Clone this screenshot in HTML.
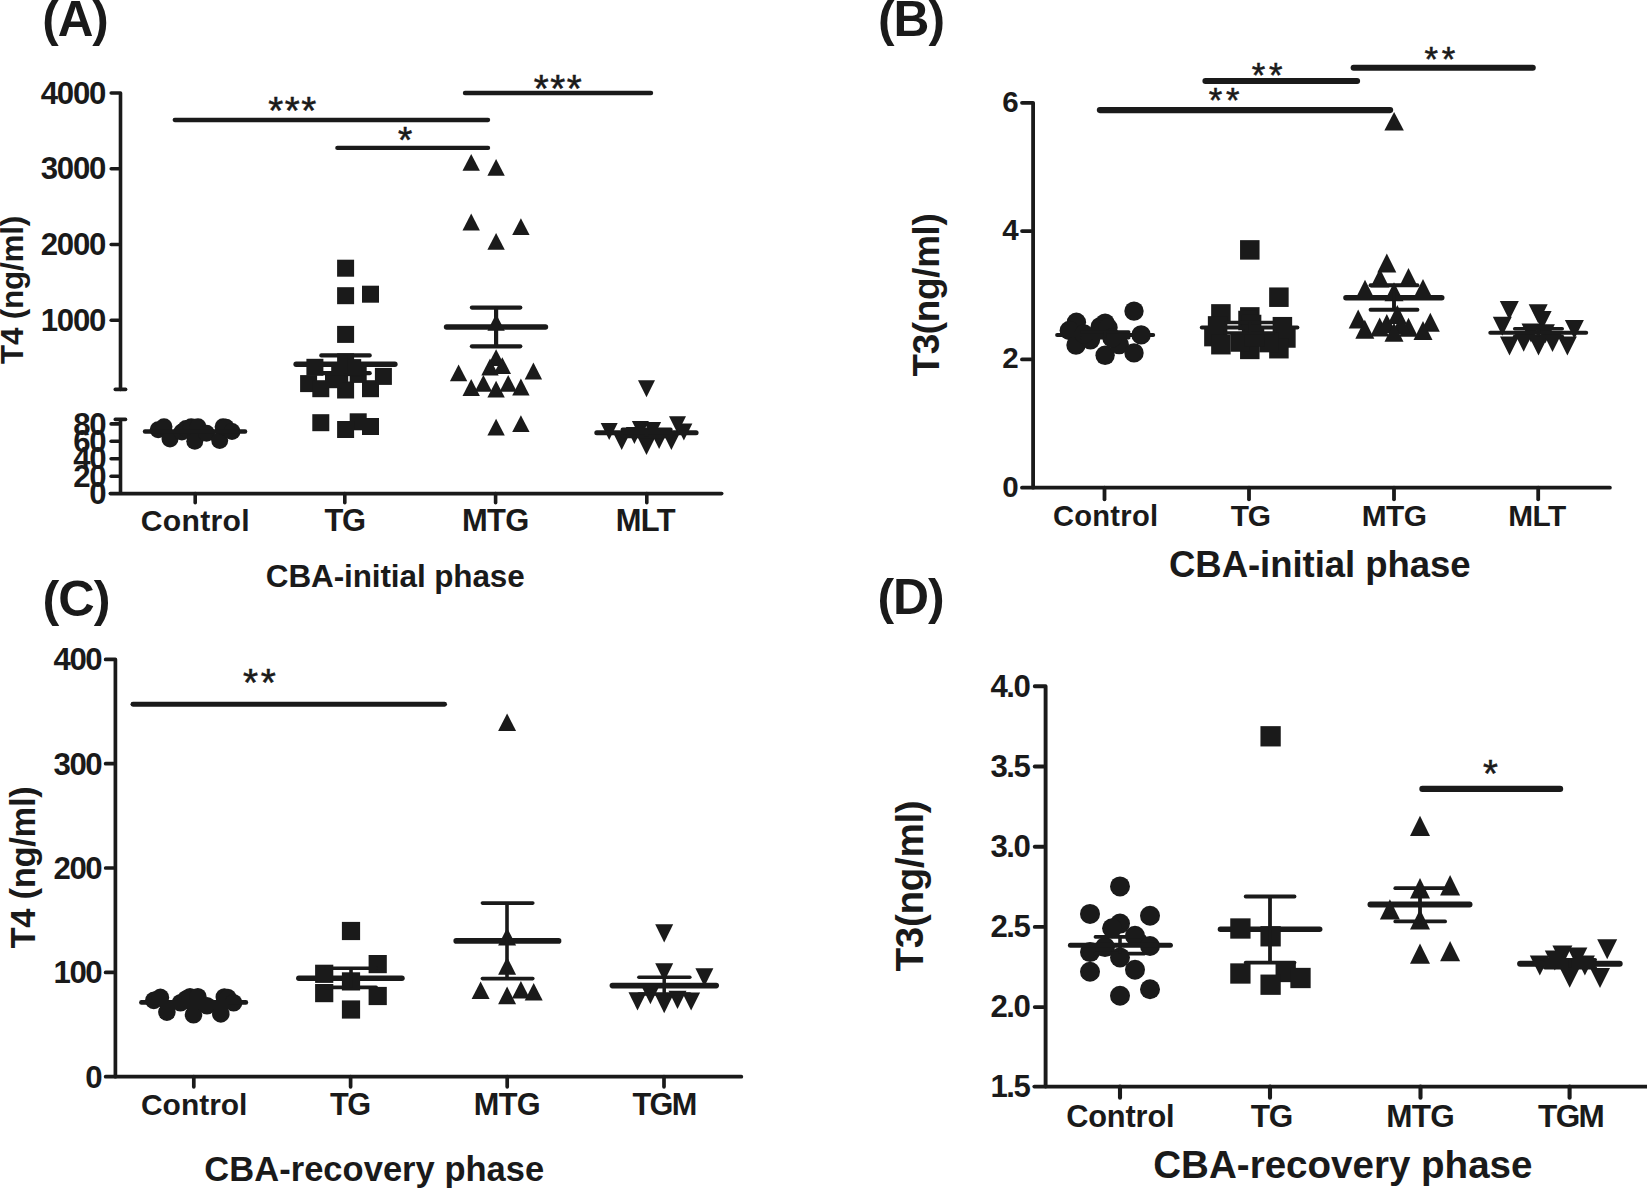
<!DOCTYPE html>
<html lang="en">
<head>
<meta charset="utf-8">
<title>Serum T4 and T3 levels - CBA initial and recovery phase</title>
<style>
html,body{margin:0;padding:0;background:#ffffff;}
body{width:1647px;height:1190px;overflow:hidden;}
svg{display:block;}
svg text{stroke:none;}
svg text.s{stroke:#1a1a1a;stroke-width:0.55px;stroke-linejoin:miter;}
</style>
</head>
<body>
<svg width="1647" height="1190" viewBox="0 0 1647 1190" font-family="'Liberation Sans', Arial, Helvetica, sans-serif" font-weight="700" fill="#1a1a1a" stroke="#1a1a1a" stroke-width="0">
<rect x="0" y="0" width="1647" height="1190" fill="#ffffff" stroke="none"/>
<!-- Panel A -->
<text x="42.3" y="35.7" font-size="49.4" text-anchor="start" letter-spacing="-1.04">(A)</text>
<path d="M111.2 93H120.5V389.4" fill="none" stroke-width="3.6" stroke-linecap="round" stroke-linejoin="round"/>
<text x="105.19" y="103.7" font-size="31.2" text-anchor="end" letter-spacing="-1.21">4000</text>
<line x1="111.2" y1="168.7" x2="118.7" y2="168.7" stroke-width="3.6" stroke-linecap="round"/>
<text x="105.19" y="179.4" font-size="31.2" text-anchor="end" letter-spacing="-1.21">3000</text>
<line x1="111.2" y1="244.5" x2="118.7" y2="244.5" stroke-width="3.6" stroke-linecap="round"/>
<text x="105.19" y="255.2" font-size="31.2" text-anchor="end" letter-spacing="-1.21">2000</text>
<line x1="111.2" y1="320.2" x2="118.7" y2="320.2" stroke-width="3.6" stroke-linecap="round"/>
<text x="105.19" y="330.9" font-size="31.2" text-anchor="end" letter-spacing="-1.21">1000</text>
<line x1="115.3" y1="389.4" x2="125.6" y2="389.4" stroke-width="3.6" stroke-linecap="round"/>
<line x1="120.5" y1="419.4" x2="120.5" y2="493.6" stroke-width="3.6" stroke-linecap="butt"/>
<line x1="115.3" y1="419.4" x2="125.5" y2="419.4" stroke-width="3.6" stroke-linecap="round"/>
<line x1="111.1" y1="423.9" x2="118.7" y2="423.9" stroke-width="3.6" stroke-linecap="round"/>
<text x="105.44" y="434.6" font-size="31.2" text-anchor="end" letter-spacing="-1.26">80</text>
<line x1="111.1" y1="441.3" x2="118.7" y2="441.3" stroke-width="3.6" stroke-linecap="round"/>
<text x="105.44" y="452" font-size="31.2" text-anchor="end" letter-spacing="-1.26">60</text>
<line x1="111.1" y1="458.7" x2="118.7" y2="458.7" stroke-width="3.6" stroke-linecap="round"/>
<text x="105.44" y="469.4" font-size="31.2" text-anchor="end" letter-spacing="-1.26">40</text>
<line x1="111.1" y1="476.2" x2="118.7" y2="476.2" stroke-width="3.6" stroke-linecap="round"/>
<text x="105.44" y="486.9" font-size="31.2" text-anchor="end" letter-spacing="-1.26">20</text>
<text x="105.44" y="504.3" font-size="31.2" text-anchor="end" letter-spacing="-1.26">0</text>
<line x1="110.3" y1="493.6" x2="721.7" y2="493.6" stroke-width="3.6" stroke-linecap="round"/>
<line x1="195.2" y1="493.6" x2="195.2" y2="502.8" stroke-width="3.6" stroke-linecap="round"/>
<text x="195.36" y="531.3" font-size="30.15" text-anchor="middle" letter-spacing="0.31">Control</text>
<line x1="344.8" y1="493.6" x2="344.8" y2="502.8" stroke-width="3.6" stroke-linecap="round"/>
<text x="344.57" y="531.3" font-size="30.89" text-anchor="middle" letter-spacing="-1.45">TG</text>
<line x1="495.6" y1="493.6" x2="495.6" y2="502.8" stroke-width="3.6" stroke-linecap="round"/>
<text x="495.27" y="531.3" font-size="30.89" text-anchor="middle" letter-spacing="-0.65">MTG</text>
<line x1="646.8" y1="493.6" x2="646.8" y2="502.8" stroke-width="3.6" stroke-linecap="round"/>
<text x="645.27" y="531.3" font-size="30.89" text-anchor="middle" letter-spacing="-0.65">MLT</text>
<text x="395.26" y="586.9" font-size="31.46" text-anchor="middle" letter-spacing="-0.09">CBA-initial phase</text>
<text x="22.58" y="290" font-size="31.46" text-anchor="middle" letter-spacing="-0.25" transform="rotate(-90 22.58 290)">T4 (ng/ml)</text>
<circle cx="158.2" cy="429.8" r="8.5"/>
<circle cx="164" cy="426.8" r="8.5"/>
<circle cx="170" cy="439.1" r="8.5"/>
<circle cx="181.9" cy="431.9" r="8.5"/>
<circle cx="186" cy="428.5" r="8.5"/>
<circle cx="191.2" cy="426.8" r="8.5"/>
<circle cx="198" cy="426.8" r="8.5"/>
<circle cx="194.8" cy="441.2" r="8.5"/>
<circle cx="206.5" cy="433.2" r="8.5"/>
<circle cx="219.7" cy="440.4" r="8.5"/>
<circle cx="223.1" cy="426.8" r="8.5"/>
<circle cx="226" cy="427.3" r="8.5"/>
<circle cx="232" cy="431.5" r="8.5"/>
<line x1="145" y1="431.5" x2="245.1" y2="431.5" stroke-width="4.4" stroke-linecap="round"/>
<rect x="337.1" y="259.7" width="17" height="17"/>
<rect x="337.1" y="287.2" width="17" height="17"/>
<rect x="362" y="285.7" width="17" height="17"/>
<rect x="337.1" y="325.9" width="17" height="17"/>
<rect x="337.1" y="353.3" width="17" height="17"/>
<rect x="306.4" y="358.8" width="17" height="17"/>
<rect x="374.9" y="367.9" width="17" height="17"/>
<rect x="300.1" y="375.1" width="17" height="17"/>
<rect x="312.3" y="380.2" width="17" height="17"/>
<rect x="337.1" y="381.5" width="17" height="17"/>
<rect x="362" y="380.2" width="17" height="17"/>
<rect x="331.2" y="365.9" width="17" height="17"/>
<rect x="349.7" y="365.9" width="17" height="17"/>
<rect x="325" y="371.2" width="17" height="17"/>
<rect x="344.2" y="359.1" width="17" height="17"/>
<rect x="312.3" y="414.2" width="17" height="17"/>
<rect x="349.7" y="413.3" width="17" height="17"/>
<rect x="337.1" y="421" width="17" height="17"/>
<rect x="362" y="418" width="17" height="17"/>
<line x1="296.15" y1="364.3" x2="394.85" y2="364.3" stroke-width="5.5" stroke-linecap="round"/>
<line x1="321.3" y1="355.4" x2="369.7" y2="355.4" stroke-width="4.2" stroke-linecap="round"/>
<line x1="321.3" y1="373.2" x2="369.7" y2="373.2" stroke-width="4.2" stroke-linecap="round"/>
<line x1="345.6" y1="355.4" x2="345.6" y2="373.2" stroke-width="4.2" stroke-linecap="butt"/>
<polygon points="471.2,153.9 462.5,170.7 479.9,170.7"/>
<polygon points="496.1,159 487.4,175.8 504.8,175.8"/>
<polygon points="471.2,213.6 462.5,230.4 479.9,230.4"/>
<polygon points="520.9,218.2 512.2,235 529.6,235"/>
<polygon points="496.1,232.9 487.4,249.7 504.8,249.7"/>
<polygon points="496.1,314 487.4,330.8 504.8,330.8"/>
<polygon points="496.1,349.2 487.4,366 504.8,366"/>
<polygon points="490,358.6 481.3,375.4 498.7,375.4"/>
<polygon points="502.3,357.2 493.6,374 511,374"/>
<polygon points="458.6,364.5 449.9,381.3 467.3,381.3"/>
<polygon points="533.4,362.6 524.7,379.4 542.1,379.4"/>
<polygon points="483.4,374.9 474.7,391.7 492.1,391.7"/>
<polygon points="508.2,374.9 499.5,391.7 516.9,391.7"/>
<polygon points="471.2,379.1 462.5,395.9 479.9,395.9"/>
<polygon points="496.1,380.8 487.4,397.6 504.8,397.6"/>
<polygon points="520.9,378.6 512.2,395.4 529.6,395.4"/>
<polygon points="496.1,418.7 487.4,435.5 504.8,435.5"/>
<polygon points="520.9,415.2 512.2,432 529.6,432"/>
<line x1="446.55" y1="327" x2="545.45" y2="327" stroke-width="5.5" stroke-linecap="round"/>
<line x1="471.9" y1="307.6" x2="520.3" y2="307.6" stroke-width="4.2" stroke-linecap="round"/>
<line x1="471.9" y1="346.3" x2="520.3" y2="346.3" stroke-width="4.2" stroke-linecap="round"/>
<line x1="496.1" y1="307.6" x2="496.1" y2="346.3" stroke-width="4.2" stroke-linecap="butt"/>
<polygon points="638,380.2 655,380.2 646.5,397.2"/>
<polygon points="600.7,423.1 617.7,423.1 609.2,440.1"/>
<polygon points="669,416.3 686,416.3 677.5,433.3"/>
<polygon points="675.4,423.6 692.4,423.6 683.9,440.6"/>
<polygon points="631.9,420.9 648.9,420.9 640.4,437.9"/>
<polygon points="644.1,421.9 661.1,421.9 652.6,438.9"/>
<polygon points="613.2,432.9 630.2,432.9 621.7,449.9"/>
<polygon points="638,438 655,438 646.5,455"/>
<polygon points="650.6,432.1 667.6,432.1 659.1,449.1"/>
<polygon points="662.9,432.9 679.9,432.9 671.4,449.9"/>
<polygon points="625.9,427 642.9,427 634.4,444"/>
<line x1="596.8" y1="432.8" x2="696.1" y2="432.8" stroke-width="5" stroke-linecap="round"/>
<line x1="622.6" y1="429.4" x2="670.6" y2="429.4" stroke-width="4" stroke-linecap="round"/>
<line x1="622.6" y1="436.2" x2="670.6" y2="436.2" stroke-width="4" stroke-linecap="round"/>
<line x1="646.5" y1="429.4" x2="646.5" y2="436.2" stroke-width="4" stroke-linecap="butt"/>
<line x1="174.75" y1="120" x2="488.05" y2="120" stroke-width="4.3" stroke-linecap="round"/>
<text x="293.11" y="123.6" font-size="38.5" text-anchor="middle" font-weight="400" class="s" letter-spacing="1.52">***</text>
<line x1="337.35" y1="147.9" x2="488.05" y2="147.9" stroke-width="4.3" stroke-linecap="round"/>
<text x="405.2" y="153.3" font-size="36.6" text-anchor="middle" font-weight="400" class="s">*</text>
<line x1="465" y1="93" x2="651" y2="93" stroke-width="4.4" stroke-linecap="round"/>
<text x="558.61" y="101.5" font-size="38.5" text-anchor="middle" font-weight="400" class="s" letter-spacing="1.52">***</text>
<!-- Panel B -->
<text x="878.1" y="35.8" font-size="49.71" text-anchor="start" letter-spacing="-1.05">(B)</text>
<path d="M1022 102.8H1033.1V487.7" fill="none" stroke-width="3.8" stroke-linecap="round" stroke-linejoin="round"/>
<text x="1018.18" y="111.8" font-size="29.54" text-anchor="end" letter-spacing="-0.62">6</text>
<line x1="1022" y1="231.1" x2="1031.2" y2="231.1" stroke-width="3.8" stroke-linecap="round"/>
<text x="1018.18" y="240.1" font-size="29.54" text-anchor="end" letter-spacing="-0.62">4</text>
<line x1="1022" y1="359.4" x2="1031.2" y2="359.4" stroke-width="3.8" stroke-linecap="round"/>
<text x="1018.18" y="368.4" font-size="29.54" text-anchor="end" letter-spacing="-0.62">2</text>
<text x="1018.18" y="496.7" font-size="29.54" text-anchor="end" letter-spacing="-0.62">0</text>
<line x1="1022" y1="487.7" x2="1609.9" y2="487.7" stroke-width="3.8" stroke-linecap="round"/>
<line x1="1104.5" y1="487.7" x2="1104.5" y2="499.3" stroke-width="3.8" stroke-linecap="round"/>
<text x="1105.64" y="525.8" font-size="29.13" text-anchor="middle" letter-spacing="0.27">Control</text>
<line x1="1249" y1="487.7" x2="1249" y2="499.3" stroke-width="3.8" stroke-linecap="round"/>
<text x="1250.23" y="525.8" font-size="29.85" text-anchor="middle" letter-spacing="-1.13">TG</text>
<line x1="1394" y1="487.7" x2="1394" y2="499.3" stroke-width="3.8" stroke-linecap="round"/>
<text x="1394.08" y="525.8" font-size="29.85" text-anchor="middle" letter-spacing="-0.63">MTG</text>
<line x1="1538.2" y1="487.7" x2="1538.2" y2="499.3" stroke-width="3.8" stroke-linecap="round"/>
<text x="1536.98" y="525.8" font-size="29.85" text-anchor="middle" letter-spacing="-0.63">MLT</text>
<text x="1319.78" y="576.9" font-size="36.54" text-anchor="middle" letter-spacing="-0.05">CBA-initial phase</text>
<text x="938.55" y="295" font-size="36.84" text-anchor="middle" letter-spacing="-0.29" transform="rotate(-90 938.55 295)">T3(ng/ml)</text>
<circle cx="1134" cy="311.1" r="9.7"/>
<circle cx="1076.4" cy="322.3" r="9.7"/>
<circle cx="1069.3" cy="330.5" r="9.7"/>
<circle cx="1105.1" cy="323.2" r="9.7"/>
<circle cx="1100.3" cy="326.6" r="9.7"/>
<circle cx="1108" cy="327.6" r="9.7"/>
<circle cx="1141.1" cy="334.9" r="9.7"/>
<circle cx="1076" cy="345.1" r="9.7"/>
<circle cx="1090.5" cy="339.8" r="9.7"/>
<circle cx="1105.1" cy="355.3" r="9.7"/>
<circle cx="1119.2" cy="344.6" r="9.7"/>
<circle cx="1134" cy="352.9" r="9.7"/>
<circle cx="1084" cy="334" r="9.7"/>
<circle cx="1112" cy="338" r="9.7"/>
<line x1="1057.1" y1="334.9" x2="1153.2" y2="334.9" stroke-width="4" stroke-linecap="round"/>
<line x1="1081.8" y1="332" x2="1128.7" y2="332" stroke-width="3.6" stroke-linecap="round"/>
<line x1="1081.8" y1="337.8" x2="1128.7" y2="337.8" stroke-width="3.6" stroke-linecap="round"/>
<line x1="1105.1" y1="332" x2="1105.1" y2="337.8" stroke-width="3.6" stroke-linecap="butt"/>
<rect x="1240.05" y="240.15" width="19.5" height="19.5"/>
<rect x="1269.15" y="287.45" width="19.5" height="19.5"/>
<rect x="1211.15" y="304.15" width="19.5" height="19.5"/>
<rect x="1240.05" y="307.15" width="19.5" height="19.5"/>
<rect x="1238.25" y="310.75" width="19.5" height="19.5"/>
<rect x="1241.85" y="314.75" width="19.5" height="19.5"/>
<rect x="1272.65" y="316.95" width="19.5" height="19.5"/>
<rect x="1207.85" y="316.15" width="19.5" height="19.5"/>
<rect x="1204.15" y="326.85" width="19.5" height="19.5"/>
<rect x="1276.15" y="328.25" width="19.5" height="19.5"/>
<rect x="1211.15" y="334.95" width="19.5" height="19.5"/>
<rect x="1240.05" y="339.65" width="19.5" height="19.5"/>
<rect x="1269.15" y="338.95" width="19.5" height="19.5"/>
<rect x="1230.45" y="332.25" width="19.5" height="19.5"/>
<rect x="1259.25" y="332.85" width="19.5" height="19.5"/>
<rect x="1244.75" y="327.25" width="19.5" height="19.5"/>
<line x1="1201.8" y1="327.6" x2="1297.4" y2="327.6" stroke-width="4" stroke-linecap="round"/>
<line x1="1226.2" y1="322.5" x2="1273.3" y2="322.5" stroke-width="3.4" stroke-linecap="round"/>
<line x1="1226.2" y1="333" x2="1273.3" y2="333" stroke-width="3.4" stroke-linecap="round"/>
<line x1="1249.8" y1="322.5" x2="1249.8" y2="333" stroke-width="3.4" stroke-linecap="butt"/>
<polygon points="1394.1,112 1384.35,130.5 1403.85,130.5"/>
<polygon points="1386.8,253.5 1377.3,272.5 1396.3,272.5"/>
<polygon points="1379.9,268.5 1370.4,287.5 1389.4,287.5"/>
<polygon points="1408.5,268 1399,287 1418,287"/>
<polygon points="1365,279.7 1355.5,298.7 1374.5,298.7"/>
<polygon points="1423,279.1 1413.5,298.1 1432.5,298.1"/>
<polygon points="1394,282.2 1384.5,301.2 1403.5,301.2"/>
<polygon points="1358.2,309.5 1348.7,328.5 1367.7,328.5"/>
<polygon points="1364.8,319.8 1355.3,338.8 1374.3,338.8"/>
<polygon points="1379.7,317.4 1370.2,336.4 1389.2,336.4"/>
<polygon points="1386.8,313.9 1377.3,332.9 1396.3,332.9"/>
<polygon points="1397.3,305.1 1387.8,324.1 1406.8,324.1"/>
<polygon points="1408.5,317.7 1399,336.7 1418,336.7"/>
<polygon points="1430.3,312.7 1420.8,331.7 1439.8,331.7"/>
<polygon points="1423,320.9 1413.5,339.9 1432.5,339.9"/>
<polygon points="1401,315 1391.5,334 1410.5,334"/>
<polygon points="1394,322.8 1384.5,341.8 1403.5,341.8"/>
<line x1="1345.95" y1="297.7" x2="1441.75" y2="297.7" stroke-width="5.5" stroke-linecap="round"/>
<line x1="1370.55" y1="285.2" x2="1417.45" y2="285.2" stroke-width="3.9" stroke-linecap="round"/>
<line x1="1370.55" y1="309.7" x2="1417.45" y2="309.7" stroke-width="3.9" stroke-linecap="round"/>
<line x1="1394" y1="285.2" x2="1394" y2="309.7" stroke-width="3.9" stroke-linecap="butt"/>
<polygon points="1499.8,301.1 1518.8,301.1 1509.3,320.1"/>
<polygon points="1492.8,316.7 1511.8,316.7 1502.3,335.7"/>
<polygon points="1528.7,304.2 1547.7,304.2 1538.2,323.2"/>
<polygon points="1532.6,311 1551.6,311 1542.1,330"/>
<polygon points="1564.9,320 1583.9,320 1574.4,339"/>
<polygon points="1521.5,323.4 1540.5,323.4 1531,342.4"/>
<polygon points="1535.9,324.2 1554.9,324.2 1545.4,343.2"/>
<polygon points="1500,336.4 1519,336.4 1509.5,355.4"/>
<polygon points="1514.2,332.7 1533.2,332.7 1523.7,351.7"/>
<polygon points="1529,336.4 1548,336.4 1538.5,355.4"/>
<polygon points="1543,333.1 1562,333.1 1552.5,352.1"/>
<polygon points="1557.9,336.4 1576.9,336.4 1567.4,355.4"/>
<line x1="1490.35" y1="332.7" x2="1586.15" y2="332.7" stroke-width="4.1" stroke-linecap="round"/>
<line x1="1514.7" y1="328.7" x2="1562.2" y2="328.7" stroke-width="3.6" stroke-linecap="round"/>
<line x1="1514.7" y1="336.3" x2="1562.2" y2="336.3" stroke-width="3.6" stroke-linecap="round"/>
<line x1="1538.3" y1="328.7" x2="1538.3" y2="336.3" stroke-width="3.6" stroke-linecap="butt"/>
<line x1="1099.85" y1="110.1" x2="1390.15" y2="110.1" stroke-width="6.1" stroke-linecap="round"/>
<text x="1226.12" y="111.6" font-size="34.6" text-anchor="middle" font-weight="400" class="s" letter-spacing="3.84">**</text>
<line x1="1205.45" y1="81" x2="1357.05" y2="81" stroke-width="6.1" stroke-linecap="round"/>
<text x="1269.12" y="86.7" font-size="34.6" text-anchor="middle" font-weight="400" class="s" letter-spacing="3.84">**</text>
<line x1="1353.65" y1="67.7" x2="1532.75" y2="67.7" stroke-width="6.1" stroke-linecap="round"/>
<text x="1441.82" y="71.3" font-size="34.6" text-anchor="middle" font-weight="400" class="s" letter-spacing="3.84">**</text>
<!-- Panel C -->
<text x="42.6" y="615.8" font-size="50.44" text-anchor="start" letter-spacing="-1.07">(C)</text>
<path d="M105.65 659.4H115.4V1076.7" fill="none" stroke-width="3.7" stroke-linecap="round" stroke-linejoin="round"/>
<text x="101.29" y="670.4" font-size="31.2" text-anchor="end" letter-spacing="-1.41">400</text>
<line x1="105.65" y1="763.7" x2="113.55" y2="763.7" stroke-width="3.7" stroke-linecap="round"/>
<text x="101.29" y="774.7" font-size="31.2" text-anchor="end" letter-spacing="-1.41">300</text>
<line x1="105.65" y1="868" x2="113.55" y2="868" stroke-width="3.7" stroke-linecap="round"/>
<text x="101.29" y="879" font-size="31.2" text-anchor="end" letter-spacing="-1.41">200</text>
<line x1="105.65" y1="972.4" x2="113.55" y2="972.4" stroke-width="3.7" stroke-linecap="round"/>
<text x="101.29" y="983.4" font-size="31.2" text-anchor="end" letter-spacing="-1.41">100</text>
<text x="101.29" y="1087.7" font-size="31.2" text-anchor="end" letter-spacing="-1.41">0</text>
<line x1="105.65" y1="1076.7" x2="741.35" y2="1076.7" stroke-width="3.7" stroke-linecap="round"/>
<line x1="193.8" y1="1076.7" x2="193.8" y2="1086.85" stroke-width="3.7" stroke-linecap="round"/>
<text x="194.21" y="1114.9" font-size="29.94" text-anchor="middle" letter-spacing="0.01">Control</text>
<line x1="350.6" y1="1076.7" x2="350.6" y2="1086.85" stroke-width="3.7" stroke-linecap="round"/>
<text x="349.88" y="1114.9" font-size="30.68" text-anchor="middle" letter-spacing="-1.45">TG</text>
<line x1="507.2" y1="1076.7" x2="507.2" y2="1086.85" stroke-width="3.7" stroke-linecap="round"/>
<text x="506.88" y="1114.9" font-size="30.68" text-anchor="middle" letter-spacing="-0.65">MTG</text>
<line x1="664" y1="1076.7" x2="664" y2="1086.85" stroke-width="3.7" stroke-linecap="round"/>
<text x="664.13" y="1114.9" font-size="30.68" text-anchor="middle" letter-spacing="-1.55">TGM</text>
<text x="374.31" y="1181.2" font-size="34.51" text-anchor="middle" letter-spacing="0.03">CBA-recovery phase</text>
<text x="34.56" y="867.5" font-size="34.51" text-anchor="middle" letter-spacing="-0.27" transform="rotate(-90 34.56 867.5)">T4 (ng/ml)</text>
<circle cx="153.8" cy="1000.4" r="8.8"/>
<circle cx="160.4" cy="997.4" r="8.8"/>
<circle cx="166.9" cy="1012.1" r="8.8"/>
<circle cx="180.5" cy="1002.8" r="8.8"/>
<circle cx="186" cy="999" r="8.8"/>
<circle cx="190" cy="996.8" r="8.8"/>
<circle cx="197.9" cy="996.8" r="8.8"/>
<circle cx="193.5" cy="1014.7" r="8.8"/>
<circle cx="207" cy="1005.8" r="8.8"/>
<circle cx="220.8" cy="1013.9" r="8.8"/>
<circle cx="224.3" cy="997" r="8.8"/>
<circle cx="227.9" cy="997.6" r="8.8"/>
<circle cx="233.6" cy="1002.8" r="8.8"/>
<line x1="141.45" y1="1002.4" x2="245.85" y2="1002.4" stroke-width="4.7" stroke-linecap="round"/>
<rect x="160" y="1000.5" width="68" height="8.5"/>
<rect x="341.9" y="921.9" width="18.2" height="18.2"/>
<rect x="368.6" y="955" width="18.2" height="18.2"/>
<rect x="315.1" y="964.7" width="18.2" height="18.2"/>
<rect x="341.9" y="972.3" width="18.2" height="18.2"/>
<rect x="315.1" y="984" width="18.2" height="18.2"/>
<rect x="368.6" y="986.9" width="18.2" height="18.2"/>
<rect x="341.9" y="1000.4" width="18.2" height="18.2"/>
<line x1="298.85" y1="978.3" x2="401.95" y2="978.3" stroke-width="5.5" stroke-linecap="round"/>
<line x1="325.8" y1="968.3" x2="376.2" y2="968.3" stroke-width="3.6" stroke-linecap="round"/>
<line x1="325.8" y1="987.4" x2="376.2" y2="987.4" stroke-width="3.6" stroke-linecap="round"/>
<line x1="351" y1="968.3" x2="351" y2="987.4" stroke-width="3.6" stroke-linecap="butt"/>
<polygon points="507.1,713.4 498.1,731.1 516.1,731.1"/>
<polygon points="507.1,927.7 498.1,945.4 516.1,945.4"/>
<polygon points="507.1,957.1 498.1,974.8 516.1,974.8"/>
<polygon points="480.6,981.4 471.6,999.1 489.6,999.1"/>
<polygon points="507.1,986.6 498.1,1004.3 516.1,1004.3"/>
<polygon points="520.9,980.9 511.9,998.6 529.9,998.6"/>
<polygon points="533.7,982.9 524.7,1000.6 542.7,1000.6"/>
<line x1="456.2" y1="940.9" x2="558.6" y2="940.9" stroke-width="5.6" stroke-linecap="round"/>
<line x1="482.4" y1="903.1" x2="532.8" y2="903.1" stroke-width="3.6" stroke-linecap="round"/>
<line x1="482.4" y1="978.6" x2="532.8" y2="978.6" stroke-width="3.6" stroke-linecap="round"/>
<line x1="507" y1="903.1" x2="507" y2="978.6" stroke-width="3.6" stroke-linecap="butt"/>
<polygon points="655.2,924.3 673.2,924.3 664.2,942.5"/>
<polygon points="655.2,963.3 673.2,963.3 664.2,981.5"/>
<polygon points="695.4,968.2 713.4,968.2 704.4,986.4"/>
<polygon points="628.5,992.2 646.5,992.2 637.5,1010.4"/>
<polygon points="641.4,986.1 659.4,986.1 650.4,1004.3"/>
<polygon points="655.2,995 673.2,995 664.2,1013.2"/>
<polygon points="668.5,990.7 686.5,990.7 677.5,1008.9"/>
<polygon points="682.1,992.4 700.1,992.4 691.1,1010.6"/>
<line x1="612.4" y1="985.6" x2="716.2" y2="985.6" stroke-width="5.6" stroke-linecap="round"/>
<line x1="638.85" y1="977.3" x2="689.85" y2="977.3" stroke-width="3.5" stroke-linecap="round"/>
<line x1="638.85" y1="993.9" x2="689.85" y2="993.9" stroke-width="3.5" stroke-linecap="round"/>
<line x1="664.2" y1="977.3" x2="664.2" y2="993.9" stroke-width="3.5" stroke-linecap="butt"/>
<line x1="132.95" y1="704.3" x2="444.55" y2="704.3" stroke-width="4.9" stroke-linecap="round"/>
<text x="260.82" y="696" font-size="38.7" text-anchor="middle" font-weight="400" class="s" letter-spacing="2.85">**</text>
<!-- Panel D -->
<text x="877.5" y="614.2" font-size="49.92" text-anchor="start" letter-spacing="-1.06">(D)</text>
<path d="M1034.75 686.3H1045.6V1086.6" fill="none" stroke-width="3.9" stroke-linecap="round" stroke-linejoin="round"/>
<text x="1029.44" y="696.6" font-size="31.2" text-anchor="end" letter-spacing="-1.46">4.0</text>
<line x1="1034.75" y1="766.5" x2="1043.65" y2="766.5" stroke-width="3.9" stroke-linecap="round"/>
<text x="1029.44" y="776.8" font-size="31.2" text-anchor="end" letter-spacing="-1.46">3.5</text>
<line x1="1034.75" y1="846.7" x2="1043.65" y2="846.7" stroke-width="3.9" stroke-linecap="round"/>
<text x="1029.44" y="857" font-size="31.2" text-anchor="end" letter-spacing="-1.46">3.0</text>
<line x1="1034.75" y1="926.9" x2="1043.65" y2="926.9" stroke-width="3.9" stroke-linecap="round"/>
<text x="1029.44" y="937.2" font-size="31.2" text-anchor="end" letter-spacing="-1.46">2.5</text>
<line x1="1034.75" y1="1007.1" x2="1043.65" y2="1007.1" stroke-width="3.9" stroke-linecap="round"/>
<text x="1029.44" y="1017.4" font-size="31.2" text-anchor="end" letter-spacing="-1.46">2.0</text>
<text x="1029.44" y="1097.1" font-size="31.2" text-anchor="end" letter-spacing="-1.46">1.5</text>
<line x1="1034.35" y1="1086.6" x2="1650" y2="1086.6" stroke-width="3.9" stroke-linecap="round"/>
<line x1="1120" y1="1086.6" x2="1120" y2="1097.65" stroke-width="4.1" stroke-linecap="round"/>
<text x="1120.33" y="1126.8" font-size="30.75" text-anchor="middle" letter-spacing="-0.14">Control</text>
<line x1="1270" y1="1086.6" x2="1270" y2="1097.65" stroke-width="4.1" stroke-linecap="round"/>
<text x="1271.27" y="1126.8" font-size="31.51" text-anchor="middle" letter-spacing="-1.47">TG</text>
<line x1="1420.5" y1="1086.6" x2="1420.5" y2="1097.65" stroke-width="4.1" stroke-linecap="round"/>
<text x="1420.17" y="1126.8" font-size="31.51" text-anchor="middle" letter-spacing="-0.67">MTG</text>
<line x1="1569.6" y1="1086.6" x2="1569.6" y2="1097.65" stroke-width="4.1" stroke-linecap="round"/>
<text x="1570.62" y="1126.8" font-size="31.51" text-anchor="middle" letter-spacing="-1.57">TGM</text>
<text x="1342.89" y="1178" font-size="38.57" text-anchor="middle" letter-spacing="-0.01">CBA-recovery phase</text>
<text x="922.85" y="886" font-size="38.57" text-anchor="middle" letter-spacing="-0.3" transform="rotate(-90 922.85 886)">T3(ng/ml)</text>
<circle cx="1120" cy="886.4" r="10"/>
<circle cx="1090" cy="913.9" r="10"/>
<circle cx="1150" cy="915.7" r="10"/>
<circle cx="1120" cy="923.6" r="10"/>
<circle cx="1112.1" cy="928.3" r="10"/>
<circle cx="1135" cy="935.7" r="10"/>
<circle cx="1150" cy="946" r="10"/>
<circle cx="1090" cy="952.1" r="10"/>
<circle cx="1105" cy="947.1" r="10"/>
<circle cx="1120" cy="957.4" r="10"/>
<circle cx="1090" cy="971.7" r="10"/>
<circle cx="1135" cy="969.7" r="10"/>
<circle cx="1150" cy="989.3" r="10"/>
<circle cx="1120" cy="995.7" r="10"/>
<line x1="1070.4" y1="945.3" x2="1170.4" y2="945.3" stroke-width="5" stroke-linecap="round"/>
<line x1="1095.4" y1="936.9" x2="1144.6" y2="936.9" stroke-width="3.6" stroke-linecap="round"/>
<line x1="1095.4" y1="953.6" x2="1144.6" y2="953.6" stroke-width="3.6" stroke-linecap="round"/>
<line x1="1120" y1="936.9" x2="1120" y2="953.6" stroke-width="3.6" stroke-linecap="butt"/>
<rect x="1260.45" y="726.15" width="20.3" height="20.3"/>
<rect x="1230.25" y="918.35" width="20.3" height="20.3"/>
<rect x="1260.45" y="926.15" width="20.3" height="20.3"/>
<rect x="1230.25" y="963.35" width="20.3" height="20.3"/>
<rect x="1275.55" y="961.85" width="20.3" height="20.3"/>
<rect x="1290.35" y="967.85" width="20.3" height="20.3"/>
<rect x="1260.45" y="974.55" width="20.3" height="20.3"/>
<line x1="1220.45" y1="929.3" x2="1319.65" y2="929.3" stroke-width="5.5" stroke-linecap="round"/>
<line x1="1245.7" y1="896.5" x2="1294.5" y2="896.5" stroke-width="3.8" stroke-linecap="round"/>
<line x1="1245.7" y1="962.6" x2="1294.5" y2="962.6" stroke-width="3.8" stroke-linecap="round"/>
<line x1="1270" y1="896.5" x2="1270" y2="962.6" stroke-width="3.8" stroke-linecap="butt"/>
<polygon points="1420,815.8 1410,836.1 1430,836.1"/>
<polygon points="1420,878.1 1410,898.4 1430,898.4"/>
<polygon points="1450.1,875.1 1440.1,895.4 1460.1,895.4"/>
<polygon points="1389.9,899.3 1379.9,919.6 1399.9,919.6"/>
<polygon points="1420,909.2 1410,929.5 1430,929.5"/>
<polygon points="1420,943.5 1410,963.8 1430,963.8"/>
<polygon points="1450.1,940.9 1440.1,961.2 1460.1,961.2"/>
<line x1="1370.4" y1="904.5" x2="1469.6" y2="904.5" stroke-width="5.8" stroke-linecap="round"/>
<line x1="1395.3" y1="888.2" x2="1445.1" y2="888.2" stroke-width="3.8" stroke-linecap="round"/>
<line x1="1395.3" y1="921.4" x2="1445.1" y2="921.4" stroke-width="3.8" stroke-linecap="round"/>
<line x1="1420" y1="888.2" x2="1420" y2="921.4" stroke-width="3.8" stroke-linecap="butt"/>
<polygon points="1597.2,939.3 1617.2,939.3 1607.2,959.3"/>
<polygon points="1552.4,945.4 1572.4,945.4 1562.4,965.4"/>
<polygon points="1567.4,947.5 1587.4,947.5 1577.4,967.5"/>
<polygon points="1544.8,950.6 1564.8,950.6 1554.8,970.6"/>
<polygon points="1529.8,955.4 1549.8,955.4 1539.8,975.4"/>
<polygon points="1574.9,955.4 1594.9,955.4 1584.9,975.4"/>
<polygon points="1559.7,967.8 1579.7,967.8 1569.7,987.8"/>
<polygon points="1590,968.1 1610,968.1 1600,988.1"/>
<line x1="1520.1" y1="963.8" x2="1619.7" y2="963.8" stroke-width="6" stroke-linecap="round"/>
<line x1="1544.8" y1="959.8" x2="1595.2" y2="959.8" stroke-width="3.6" stroke-linecap="round"/>
<line x1="1544.8" y1="967.8" x2="1595.2" y2="967.8" stroke-width="3.6" stroke-linecap="round"/>
<line x1="1570" y1="959.8" x2="1570" y2="967.8" stroke-width="3.6" stroke-linecap="butt"/>
<line x1="1422.35" y1="788.9" x2="1560.15" y2="788.9" stroke-width="6.1" stroke-linecap="round"/>
<text x="1490.45" y="786.9" font-size="38.2" text-anchor="middle" font-weight="400" class="s">*</text>
</svg>
</body>
</html>
